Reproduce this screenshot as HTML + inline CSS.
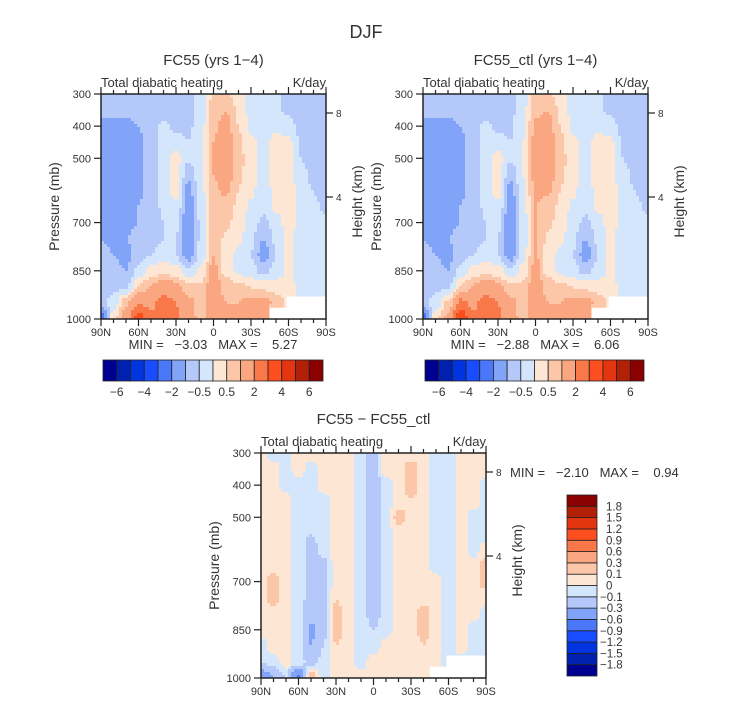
<!DOCTYPE html>
<html><head><meta charset="utf-8"><style>
body{margin:0;background:#fff;}
svg text{font-family:"Liberation Sans",sans-serif;fill:#333;white-space:pre;}
</style></head><body>
<svg id="fig" width="733" height="702" viewBox="0 0 733 702" xmlns="http://www.w3.org/2000/svg">
<text x="366" y="38" font-size="18" text-anchor="middle">DJF</text>
</svg>
<script>
// ---- data ----
const lats = ["90N","80N","70N","60N","50N","40N","30N","20N","10N","0","10S","20S","30S","40S","50S","60S","70S","80S","90S"];
const pressures = [300,350,400,450,500,550,600,650,700,750,800,850,900,950,1000];
const pTicks = [300,400,500,700,850,1000];
const hTicks = [[8,113],[4,197]];
const xTickLabels = ["90N","60N","30N","0","30S","60S","90S"];
const fullLevels = [-6,-5,-4,-3,-2,-1,-0.5,0,0.5,1,2,3,4,5,6];
const fullLevelLabels = ["-6","","-4","","-2","","-0.5","","0.5","","2","","4","","6"];
const diffLevels = [-1.8,-1.5,-1.2,-0.9,-0.6,-0.3,-0.1,0,0.1,0.3,0.6,0.9,1.2,1.5,1.8];
const diffLevelLabels = ["-1.8","-1.5","-1.2","-0.9","-0.6","-0.3","-0.1","0","0.1","0.3","0.6","0.9","1.2","1.5","1.8"];
const colors = ["#000090","#0020b0","#0034e0","#1a4cff","#4a78f8","#82a4f8","#b4c8fa","#d4e6fb","#fde6d4","#fcc6a8","#faa680","#f9784a","#fc4e1e","#e23510","#b22008","#8b0000"];
const fc55 = [
[-0.7,-0.7,-0.7,-0.7,-0.7,-0.7,-0.7,-0.6,-0.4,0.6,0.6,0.3,-0.2,-0.3,-0.4,-0.6,-0.7,-0.7,-0.7],
[-0.8,-0.8,-0.8,-0.8,-0.7,-0.7,-0.7,-0.6,-0.3,0.8,1.0,0.4,-0.2,-0.3,-0.4,-0.6,-0.8,-0.7,-0.7],
[-1.2,-1.3,-1.2,-1.0,-0.7,-0.4,-0.6,-0.6,-0.2,0.9,1.2,0.5,-0.1,-0.2,-0.1,-0.3,-0.7,-0.8,-0.7],
[-1.3,-1.4,-1.3,-1.1,-0.7,-0.3,-0.3,-0.5,-0.1,1.0,1.6,0.6,0.1,-0.2,0.2,0.1,-0.6,-0.7,-0.6],
[-1.4,-1.5,-1.4,-1.1,-0.8,-0.3,0.2,-0.4,-0.1,1.0,1.5,0.7,0.2,-0.2,0.3,0.3,-0.5,-0.7,-0.9],
[-1.4,-1.5,-1.4,-1.1,-0.8,-0.3,0.3,-0.9,-0.1,1.0,1.4,0.6,0.2,-0.2,0.3,0.3,-0.4,-0.6,-0.8],
[-1.3,-1.4,-1.3,-1.1,-0.8,-0.3,0.2,-1.2,-0.2,0.9,1.1,0.5,0.1,-0.3,0.2,0.3,-0.3,-0.5,-0.8],
[-1.2,-1.3,-1.2,-1.0,-0.8,-0.4,-0.1,-1.4,-0.3,0.8,0.8,0.4,-0.1,-0.4,0.1,0.3,-0.3,-0.4,-0.6],
[-1.1,-1.2,-1.1,-1.0,-0.8,-0.5,-0.4,-1.5,-0.4,0.8,0.6,0.3,-0.3,-0.6,-0.2,0.2,-0.2,-0.3,-0.4],
[-1.0,-1.1,-1.0,-0.9,-0.7,-0.5,-0.5,-1.5,-0.4,0.9,0.4,0.1,-0.4,-1.0,-0.4,0.1,-0.2,-0.3,-0.4],
[-0.9,-1.0,-1.2,-0.7,-0.5,-0.3,-0.5,-1.3,-0.3,1.0,0.3,-0.1,-0.5,-1.3,-0.5,0.1,-0.2,-0.3,-0.3],
[-0.8,-0.8,-1.0,-0.4,0.2,0.4,0.2,-0.4,0.1,1.2,0.3,-0.1,-0.3,-0.7,-0.3,0.1,-0.2,-0.3,-0.3],
[-0.7,-0.6,-0.6,0.5,1.0,1.5,1.2,0.6,0.6,1.5,0.8,0.6,0.5,0.4,0.3,0.2,-0.2,-0.3,-0.3],
[-0.8,-0.3,0.8,2.0,1.8,2.5,2.0,1.2,0.8,1.5,1.0,1.0,1.2,1.3,0.8,0.4,-0.1,-0.3,-0.4],
[-2.5,0.3,1.5,3.5,2.2,2.8,2.2,1.3,0.8,1.3,1.0,1.0,1.2,1.2,0.5,0.2,0.0,-0.2,-0.4]];
const fc55ctl = [
[-0.7,-0.7,-0.7,-0.7,-0.7,-0.7,-0.7,-0.6,-0.3,0.7,0.6,0.3,-0.2,-0.3,-0.4,-0.6,-0.7,-0.7,-0.7],
[-0.8,-0.8,-0.8,-0.8,-0.7,-0.7,-0.7,-0.6,-0.2,0.9,1.0,0.4,-0.2,-0.3,-0.4,-0.6,-0.8,-0.7,-0.7],
[-1.2,-1.3,-1.2,-1.0,-0.7,-0.4,-0.6,-0.6,-0.1,1.1,1.2,0.5,-0.1,-0.2,-0.1,-0.3,-0.7,-0.8,-0.7],
[-1.3,-1.4,-1.3,-1.1,-0.7,-0.3,-0.3,-0.5,0.0,1.2,1.6,0.6,0.1,-0.2,0.2,0.1,-0.6,-0.7,-0.6],
[-1.4,-1.5,-1.4,-1.1,-0.8,-0.3,0.2,-0.4,0.0,1.3,1.5,0.7,0.2,-0.2,0.3,0.3,-0.5,-0.7,-0.9],
[-1.4,-1.5,-1.4,-1.1,-0.8,-0.3,0.3,-0.9,0.0,1.2,1.4,0.6,0.2,-0.2,0.3,0.3,-0.4,-0.6,-0.8],
[-1.3,-1.4,-1.3,-1.1,-0.8,-0.3,0.2,-1.2,-0.1,1.1,1.1,0.5,0.1,-0.3,0.2,0.3,-0.3,-0.5,-0.8],
[-1.2,-1.3,-1.2,-1.0,-0.8,-0.4,-0.1,-1.4,-0.2,1.0,0.8,0.4,-0.1,-0.4,0.1,0.3,-0.3,-0.4,-0.6],
[-1.1,-1.2,-1.1,-1.0,-0.8,-0.5,-0.4,-1.5,-0.3,1.0,0.6,0.3,-0.3,-0.6,-0.2,0.2,-0.2,-0.3,-0.4],
[-1.0,-1.1,-1.0,-0.9,-0.7,-0.5,-0.5,-1.5,-0.3,1.0,0.4,0.1,-0.4,-1.0,-0.4,0.1,-0.2,-0.3,-0.4],
[-0.9,-1.0,-1.2,-0.7,-0.5,-0.3,-0.5,-1.3,-0.2,1.1,0.3,-0.1,-0.5,-1.3,-0.5,0.1,-0.2,-0.3,-0.3],
[-0.8,-0.8,-1.0,-0.4,0.2,0.4,0.2,-0.4,0.2,1.2,0.3,-0.1,-0.3,-0.7,-0.3,0.1,-0.2,-0.3,-0.3],
[-0.7,-0.6,-0.6,0.5,1.0,1.5,1.2,0.6,0.6,1.5,0.8,0.6,0.5,0.4,0.3,0.2,-0.2,-0.3,-0.3],
[-0.8,-0.3,0.6,2.2,1.8,2.5,2.0,1.2,0.8,1.4,1.0,1.0,1.2,1.3,0.8,0.4,-0.1,-0.3,-0.4],
[-2.5,0.3,1.2,4.0,2.2,2.8,2.2,1.3,0.8,1.3,1.0,1.0,1.2,1.2,0.5,0.2,0.0,-0.2,-0.4]];
const diff = [
[0.05,-0.05,-0.05,0.05,0.05,0.05,0.05,0.05,-0.05,-0.15,0.05,0.05,0.05,0.05,-0.05,-0.05,0.05,0.05,0.05],
[0.05,0.05,-0.05,0.05,-0.05,0.05,0.05,0.05,-0.05,-0.15,0.05,0.05,0.15,0.05,-0.05,-0.05,0.05,0.05,0.05],
[0.05,0.05,-0.05,-0.05,-0.05,0.05,0.05,0.05,-0.05,-0.2,-0.05,0.05,0.15,0.05,-0.05,-0.05,0.05,0.05,-0.05],
[0.05,0.05,0.05,-0.05,-0.05,-0.05,0.05,0.05,-0.05,-0.2,-0.05,0.05,0.1,0.05,-0.05,-0.05,0.05,0.05,-0.05],
[0.05,0.05,0.05,-0.05,-0.05,-0.05,0.05,0.05,-0.05,-0.2,-0.05,0.15,0.05,0.05,-0.05,-0.05,0.05,-0.05,-0.05],
[0.05,0.05,0.05,-0.05,-0.1,-0.05,0.05,0.05,-0.05,-0.2,-0.05,0.05,0.05,0.05,-0.05,-0.05,0.05,-0.05,-0.05],
[0.05,0.05,0.05,-0.05,-0.15,-0.05,0.05,0.05,-0.05,-0.2,-0.05,0.05,0.05,0.05,-0.05,-0.05,0.05,-0.05,0.05],
[0.05,0.05,0.05,-0.05,-0.15,-0.15,0.05,0.05,-0.05,-0.2,-0.05,0.05,0.05,0.05,-0.05,-0.05,0.05,0.05,0.15],
[0.05,0.15,0.05,-0.05,-0.15,-0.15,0.05,0.05,-0.05,-0.15,-0.05,0.05,0.05,0.05,0.05,-0.05,0.05,0.05,0.15],
[0.05,0.15,0.05,-0.05,-0.15,-0.15,0.1,0.05,-0.05,-0.15,-0.05,0.05,0.05,0.05,0.05,-0.05,0.05,0.05,0.05],
[0.05,0.05,0.05,-0.05,-0.2,-0.15,0.15,0.05,-0.05,-0.15,-0.05,0.05,0.05,0.15,0.05,-0.05,0.05,0.05,-0.05],
[0.05,0.05,0.05,-0.05,-0.35,-0.15,0.15,0.05,-0.05,-0.1,-0.05,0.05,0.05,0.15,0.05,-0.05,0.05,-0.05,-0.05],
[-0.05,0.05,0.05,-0.05,-0.3,-0.1,0.1,0.05,-0.05,-0.05,0.05,0.05,0.05,0.1,0.05,-0.05,0.05,-0.05,-0.05],
[-0.1,-0.05,0.05,-0.05,-0.15,-0.05,0.05,0.05,-0.05,0.05,0.05,0.05,0.05,0.05,0.05,-0.05,-0.05,-0.05,-0.05],
[-0.5,-0.3,-0.1,-0.7,0.2,-0.05,0.05,0.05,0.05,0.05,0.05,0.05,0.05,0.05,0.05,-0.3,-0.1,-0.05,-0.05]];

// ---- render ----
const NS="http://www.w3.org/2000/svg";
const svg=document.getElementById('fig');
function mk(tag,attrs,parent){const e=document.createElementNS(NS,tag);for(const k in attrs)e.setAttribute(k,attrs[k]);(parent||svg).appendChild(e);return e;}
function txt(x,y,s,size,anchor,parent,extra){const t=mk('text',Object.assign({x:x,y:y,'font-size':size,'text-anchor':anchor||'start'},extra||{}),parent);t.textContent=s;return t;}
function colorFor(v,levels){let i=0;while(i<levels.length&&v>=levels[i])i++;return colors[i];}

function panel(name,x0,y0,grid,levels,title){
  const W=225,H=225;
  const g=mk('g',{});
  
  
  const xs=lat=>x0+W*lat/(lats.length-1);
  const ys=p=>y0+H*(p-300)/700;
  const cell=3,n=W/cell;
  for(let j=0;j<n;j++){for(let i=0;i<n;i++){
    const fx=(i+0.5)/n*(lats.length-1), fy=(j+0.5)/n*(pressures.length-1);
    const i0=Math.min(Math.floor(fx),lats.length-2), j0=Math.min(Math.floor(fy),pressures.length-2);
    let tx=fx-i0, ty=fy-j0;
    tx=tx*tx*(3-2*tx); ty=ty*ty*(3-2*ty);
    const v=(grid[j0][i0]*(1-tx)+grid[j0][i0+1]*tx)*(1-ty)+(grid[j0+1][i0]*(1-tx)+grid[j0+1][i0+1]*tx)*ty;
    const r=mk('rect',{x:x0+i*cell,y:y0+j*cell,width:cell+0.3,height:cell+0.3,fill:colorFor(v,levels)},g);
    
    
  }}
  const m1=mk('rect',{x:xs(15)-2,y:ys(930),width:x0+W-xs(15)+2,height:ys(1000)-ys(930),fill:'#fff'},g);
  
  
  const m2=mk('rect',{x:xs(13.5),y:ys(965),width:xs(15)-xs(13.5),height:ys(1000)-ys(965),fill:'#fff'},g);
  
  
  const fr=mk('rect',{x:x0,y:y0,width:W,height:H,fill:'none',stroke:'#222','stroke-width':1.5},g);
  
  
  for(let k=0;k<=18;k++){const x=xs(k),len=k%3===0?7:4;
    mk('line',{x1:x,y1:y0,x2:x,y2:y0-len,stroke:'#222','stroke-width':1.2},g);
    mk('line',{x1:x,y1:y0+H,x2:x,y2:y0+H+len,stroke:'#222','stroke-width':1.2},g);}
  xTickLabels.forEach((s,k)=>{const t=txt(xs(k*3),y0+H+17,s,11,'middle',g);
    
    });
  pTicks.forEach(p=>{mk('line',{x1:x0,y1:ys(p),x2:x0-7,y2:ys(p),stroke:'#222','stroke-width':1.2},g);
    const t=txt(x0-10,ys(p)+4,String(p),11,'end',g);
    
    });
  hTicks.forEach(h=>{const yy=y0+(h[1]-94);mk('line',{x1:x0+W,y1:yy,x2:x0+W+7,y2:yy,stroke:'#222','stroke-width':1.2},g);
    const t=txt(x0+W+10,yy+4,String(h[0]),10,'start',g);
    
    });
  const yt=txt(0,0,'Pressure (mb)',14,'middle',g,{transform:`translate(${x0-42},${y0+H/2}) rotate(-90)`});
  
  
  const ht=txt(0,0,'Height (km)',14,'middle',g,{transform:`translate(${x0+W+36},${y0+H/2-5}) rotate(-90)`});
  
  
  const tt=txt(x0+W/2,y0-29,title,15,'middle',g);
  
  
  const st=txt(x0,y0-7,'Total diabatic heating',13,'start',g);
  
  
  const ut=txt(x0+W,y0-7,'K/day',13,'end',g);
  
  
}
function hbar(name,x0,y0,w,h){
  const g=mk('g',{});
  
  
  const bw=w/colors.length;
  colors.forEach((c,i)=>{const r=mk('rect',{x:x0+i*bw,y:y0,width:bw,height:h,fill:c,stroke:'#222','stroke-width':0.8},g);
    
    });
  fullLevelLabels.forEach((s,i)=>{if(!s)return;const t=txt(x0+(i+1)*bw,y0+h+15,s.replace('-','\u2212'),12,'middle',g);
    
    });
}
function vbar(name,x0,y0,w,h){
  const g=mk('g',{});
  
  
  const bh=h/colors.length;
  colors.forEach((c,i)=>{const r=mk('rect',{x:x0,y:y0+h-(i+1)*bh,width:w,height:bh,fill:c,stroke:'#222','stroke-width':0.8},g);
    
    });
  diffLevelLabels.forEach((s,i)=>{const t=txt(x0+w+(s[0]==='-'?3:9),y0+h-(i+1)*bh+4,s.replace('-','\u2212'),11.5,'start',g);
    
    });
}
panel('panel-fc55',101,94,fc55,fullLevels,'FC55 (yrs 1\u22124)');
panel('panel-fc55-ctl',423,94,fc55ctl,fullLevels,'FC55_ctl (yrs 1\u22124)');
panel('panel-difference',261,453,diff,diffLevels,'FC55 \u2212 FC55_ctl');
hbar('colorbar-fc55',103,360,220,21);
hbar('colorbar-fc55-ctl',425,360,219,21);
vbar('colorbar-difference',567,495,30,181);
[[213,'MIN =   \u22123.03   MAX =    5.27'],[535,'MIN =   \u22122.88   MAX =    6.06']].forEach(a=>{
  const t=txt(a[0],349,a[1],13,'middle');
  
  });
const mm=txt(510,477,'MIN =   \u22122.10   MAX =    0.94',13,'start');


</script>
</body></html>
